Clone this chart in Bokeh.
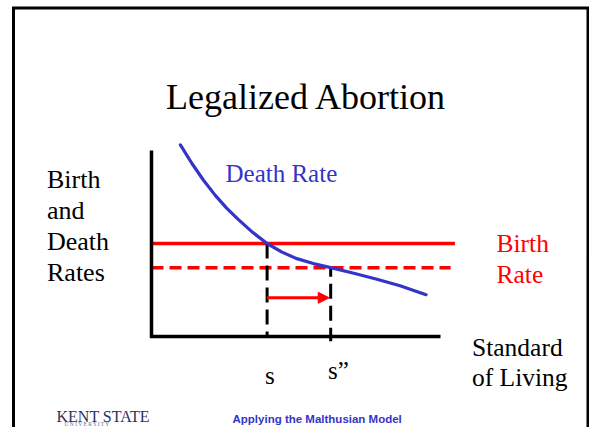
from bokeh.plotting import figure
from bokeh.models import Range1d, Label, Arrow, NormalHead
from bokeh.embed import file_html
from bokeh.resources import INLINE

# ---------------- data (diagram units) ----------------
death_x = [1.0, 1.4, 1.8, 2.2, 2.6, 3.0, 3.5, 4.0, 4.5, 5.0, 5.6, 6.2, 7.0, 7.8, 8.6, 9.5]
death_y = [10.3, 9.3, 8.4, 7.6, 6.9, 6.3, 5.6, 5.0, 4.55, 4.2, 3.92, 3.7, 3.4, 3.08, 2.73, 2.25]
birth_rate = 5.0
new_birth_rate = 3.7
birth_line_end = 10.5
new_birth_line_end = 10.35
s_old = 4.0
s_new = 6.2
arrow_level = 2.08
axis_x_max = 10.0
axis_y_max = 10.0
left_label = ["Birth", "and", "Death", "Rates"]
right_label = ["Birth", "Rate"]
x_label = ["Standard", "of Living"]

# ---------------- layout helpers ----------------
W, H = 589, 427
OX, OY = 151.0, 336.0      # pixel position of the diagram origin
KX, KY = 28.9, 18.6        # pixels per unit


def dx(px):
    return (px - OX) / KX


def dy(py):
    return (OY - py) / KY


p = figure(width=W, height=H, output_backend="svg", toolbar_location=None,
           x_range=Range1d(dx(0), dx(W)), y_range=Range1d(dy(H), dy(0)),
           x_axis_location=None, y_axis_location=None, min_border=0,
           outline_line_color=None, background_fill_color="white",
           border_fill_color="white")
p.grid.visible = False

# slide border (left, top, right)
p.line([dx(13), dx(13), dx(587.5), dx(587.5)], [dy(440), dy(7.5), dy(7.5), dy(440)],
       line_color="black", line_width=3, line_join="miter")

RED = "#ff0000"
BLUE = "#3434c8"

# birth-rate lines
p.line([0, birth_line_end], [birth_rate, birth_rate], line_color=RED, line_width=3.5)
p.line([0, new_birth_line_end], [new_birth_rate, new_birth_rate], line_color=RED,
       line_width=3.5, line_dash="12 6")

# vertical dashed guides
p.line([s_old, s_old], [birth_rate, 0], line_color="black", line_width=3, line_dash="15 7")
p.line([s_new, s_new], [new_birth_rate, -0.25], line_color="black", line_width=3,
       line_dash="15 7", line_dash_offset=6)

# axes (L shape)
p.line([0, 0, axis_x_max], [axis_y_max, 0, 0], line_color="black", line_width=3.5,
       line_join="miter")

# death-rate curve
p.line(death_x, death_y, line_color=BLUE, line_width=3.2, line_cap="round", line_join="round")

# arrow
p.add_layout(Arrow(end=NormalHead(size=11, fill_color=RED, line_color=RED, line_width=1),
                   x_start=s_old, y_start=arrow_level, x_end=s_new - 0.05, y_end=arrow_level,
                   line_color=RED, line_width=3))


def lab(text, px, py, size, color="black", align="left", font="Liberation Serif", style="normal"):
    p.add_layout(Label(x=px, y=H - py, x_units="screen", y_units="screen",
                       text=text, text_font=font, text_font_size=size, text_color=color,
                       text_align=align, text_baseline="alphabetic", text_font_style=style))


lab("Legalized Abortion", 306, 96, "36px", align="center")
for i, t in enumerate(left_label):
    lab(t, 46.5, 178.5 + i * 31, "26px")
lab("Death Rate", 225, 172.5, "25px", color=BLUE)
for i, t in enumerate(right_label):
    lab(t, 496, 242.5 + i * 31, "25.5px", color=RED)
lab("s", 264.5, 375, "25px")
lab("s\u201d", 327.5, 370, "25px")
for i, t in enumerate(x_label):
    lab(t, 471.5, 346.5 + i * 30, "25.5px")

lab("Applying the Malthusian Model", 232, 418, "11.5px", color=BLUE,
    font="Liberation Sans", style="bold")
lab("KENT STATE", 56, 416, "16px", color="#2e3163")
lab("U N I V E R S I T Y", 64, 423.5, "5.5px", color="#6a6c8a")

open("out.html", "w").write(file_html(p, INLINE))
